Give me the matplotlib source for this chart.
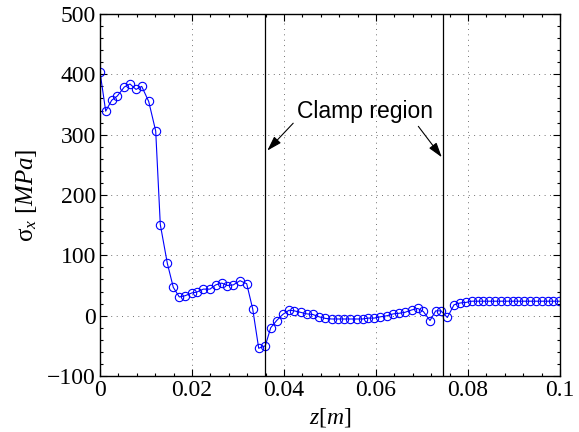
import numpy as np
import matplotlib
matplotlib.use("Agg")
import matplotlib.pyplot as plt
from matplotlib.ticker import MultipleLocator

plt.rcParams['mathtext.fontset'] = 'custom'
plt.rcParams['mathtext.rm'] = 'Liberation Serif'
plt.rcParams['mathtext.it'] = 'Liberation Serif:italic'

# axial stress along the beam
z = [0.0, 0.00124, 0.00254, 0.00376, 0.00528, 0.00652, 0.00783, 0.00907,
     0.01059, 0.01211, 0.01311, 0.01463, 0.01593, 0.01724, 0.01848, 0.01993,
     0.02102, 0.02246, 0.02391, 0.02515, 0.02646, 0.02767, 0.02898, 0.03043,
     0.03189, 0.03320, 0.03450, 0.03593, 0.03711, 0.03841, 0.03972, 0.04109,
     0.04224, 0.04363, 0.04493, 0.04624, 0.04767, 0.04898, 0.05037, 0.05167,
     0.05304, 0.05435, 0.05580, 0.05711, 0.05833, 0.05963, 0.06087, 0.06246,
     0.06376, 0.06507, 0.06630, 0.06776, 0.06907, 0.07028, 0.07174, 0.07298,
     0.07413, 0.07550, 0.07696, 0.07826, 0.07957, 0.08080, 0.08207, 0.08334,
     0.08461, 0.08588, 0.08715, 0.08842, 0.08969, 0.09096, 0.09223, 0.09350,
     0.09477, 0.09604, 0.09731, 0.09858, 0.09985]
sigma = [404, 339, 357, 364, 379, 384, 375, 380,
         355, 306, 151, 87, 47, 31, 33, 37.6,
         39, 44, 44, 51, 54, 50, 51, 58,
         53, 11, -54, -50, -20, -8, 2, 9,
         8, 5.5, 3, 2, -2, -4.5, -5.5, -5.5,
         -5.5, -5.5, -5.5, -5.5, -4, -4, -2, 0,
         3, 4, 5.6, 9.5, 12, 7, -8, 8,
         8, -3, 18, 21, 22, 24, 24, 24,
         24, 24, 24, 24, 24, 24, 24, 24,
         24, 24, 24, 24, 24]

clamp_z = [0.0359, 0.0746]

fig = plt.figure(figsize=(5.79, 4.32), dpi=100)
ax = fig.add_axes([0.1727, 0.1296, 0.7945, 0.838])

ax.plot(z, sigma, '-o', color='b', lw=0.8, markersize=6,
        markerfacecolor='none', markeredgewidth=0.8)
for zc in clamp_z:
    ax.axvline(zc, color='k', lw=0.9)

ax.text(0.0576, 338, 'Clamp region', ha='center', va='center',
        fontsize=16.5, family='Liberation Sans')
arrow = dict(arrowstyle='-|>,head_length=0.9,head_width=0.28', color='k',
             lw=0.8, shrinkA=0, shrinkB=0)
ax.annotate('', xy=(0.03637, 273.6), xytext=(0.0420, 319), arrowprops=arrow)
ax.annotate('', xy=(0.0743, 262.6), xytext=(0.0692, 313.8), arrowprops=arrow)

ax.set_xlim(0, 0.1)
ax.set_ylim(-100, 500)
ax.set_xticks([0, 0.02, 0.04, 0.06, 0.08, 0.1])
ax.set_xticklabels(['0', '0.02', '0.04', '0.06', '0.08', '0.1'])
ax.set_yticks(range(-100, 501, 100))
ax.xaxis.set_minor_locator(MultipleLocator(0.004))
ax.yaxis.set_minor_locator(MultipleLocator(20))
ax.tick_params(which='both', direction='in', top=True, right=True, width=0.8)
ax.tick_params(which='major', length=5, labelsize=17, pad=3)
ax.tick_params(which='minor', length=2.5)
for lab in ax.get_xticklabels() + ax.get_yticklabels():
    lab.set_family('Liberation Serif')
ax.grid(True, which='major', color='0.25', lw=0.6, linestyle=(0, (1, 5.5)))
for sp in ax.spines.values():
    sp.set_linewidth(1.0)

ax.set_xlabel(r'$\mathit{z[m]}$', fontsize=17, labelpad=3)
ax.set_ylabel(r'$\mathrm{\sigma}_{\mathit{x}}\ \mathit{[MPa]}$', fontsize=18, labelpad=6)

fig.savefig('out.png', dpi=100)
